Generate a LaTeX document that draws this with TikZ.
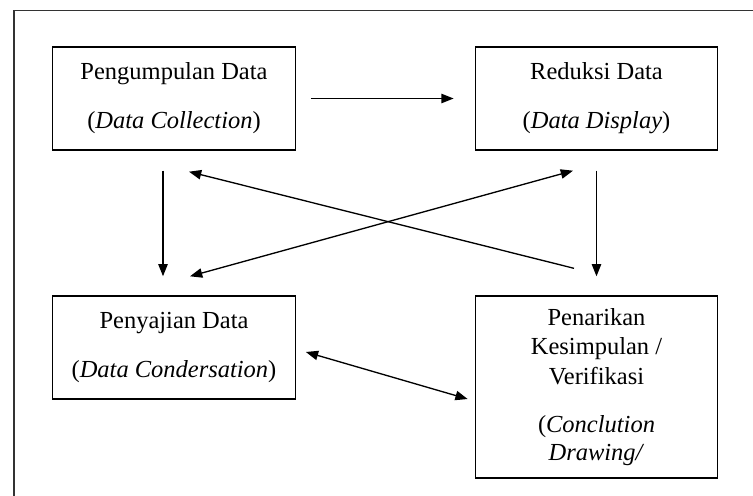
\documentclass[tikz,border=0pt]{standalone}
\usepackage{fontspec}
\setmainfont{Liberation Serif}
\usetikzlibrary{arrows.meta,calc}

\begin{document}
\begin{tikzpicture}[x=0.49pt,y=0.49pt,
	box/.style={draw,line width=0.65pt,inner sep=0pt,align=center,minimum width=118.8pt,minimum height=50.5pt,font=\fontsize{12}{14.5}\selectfont},
	flow/.style={line width=0.65pt,-{Triangle[length=6pt,width=4.6pt]}},
	both/.style={line width=0.65pt,{Triangle[length=6pt,width=4.6pt]}-{Triangle[length=6pt,width=4.6pt]}}]
	\useasboundingbox (0,0) rectangle (753,495);
	\draw[line width=0.7pt,color=black!80] (14,-10) -- (14,484.3) -- (770,484.3);
	% the four stages
	\node[box] (collect) at (174,396.5) {Pengumpulan Data\\[9.5pt](\textit{Data Collection})};
	\node[box] (reduce) at (596.5,396.5) {Reduksi Data\\[9.5pt](\textit{Data Display})};
	\node[box] (present) at (174,147.5) {Penyajian Data\\[9.5pt](\textit{Data Condersation})};
	\node[box,minimum height=89.2pt] (conclude) at (596.5,108) {Penarikan\\Kesimpulan /\\Verifikasi\\[9pt](\textit{Conclution}\\[-0.5pt]\textit{Drawing/}};
	% connectors
	\draw[flow] ($(collect.east)+(15,0)$) -- ($(reduce.west)+(-21,0)$);
	\draw[flow] ($(collect.south)+(-11,-20)$) -- ($(present.north)+(-11,19)$);
	\draw[flow] ($(reduce.south)+(0,-20)$) -- ($(conclude.north)+(0,19)$);
	\draw[flow] ($(conclude.north)+(-22.5,27)$) -- ($(collect.south)+(15,-21)$);
	\draw[both] ($(present.north)+(16,19)$) -- ($(reduce.south)+(-23.5,-20)$);
	\draw[both] ($(present.east)+(10,-4.5)$) -- ($(conclude.west)+(-7,-12)$);
\end{tikzpicture}
\end{document}
